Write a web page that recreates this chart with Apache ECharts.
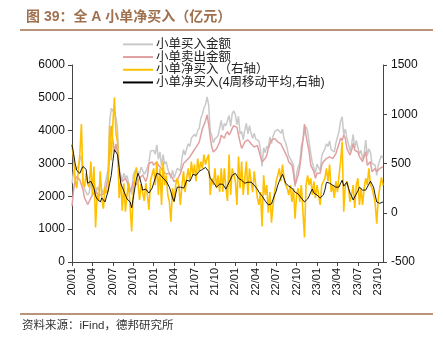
<!DOCTYPE html>
<html>
<head>
<meta charset="utf-8">
<script src="https://cdn.jsdelivr.net/npm/echarts@6/dist/echarts.min.js"></script>
<style>
  html, body { margin: 0; padding: 0; background: #fff; }
  #chart { width: 443px; height: 340px; }
</style>
</head>
<body>
<div id="chart"></div>
<script>
// Weekly small-order flows for the whole A-share market (亿元), Jan 2020 – Nov 2023
const tickLabels = ['20/01','20/04','20/07','20/10','21/01','21/04','21/07','21/10',
                    '22/01','22/04','22/07','22/10','23/01','23/04','23/07','23/10'];

// 小单买入金额 (left axis)
const buyAmount = [
  2390,2760,2830,2850,2910,3100,3250,2490,2210,2250,2040,2110,2470,2230,2570,2000,2280,2170,2420,2190,
  2090,2360,2350,2830,4280,4680,4600,4520,4400,4020,2850,2880,2470,2700,2560,2630,2600,2210,2060,2650,
  2780,2810,2750,2680,2890,2850,2670,2750,2780,3030,3380,3370,3400,3280,3570,3130,3350,2930,3270,2980,
  3060,2830,2810,2560,2800,2560,2700,2850,2880,2780,3130,3420,3260,3450,3600,3520,3770,3730,3890,3820,
  4000,4070,4370,4500,4690,4790,5030,4790,3980,3850,3630,3750,3700,3840,3860,4310,4010,4220,4150,4090,
  4460,4130,4520,4600,4490,4180,4440,3900,3980,3730,4010,4220,3900,4150,3920,3770,3920,3740,3700,3690,
  3420,2910,3480,3330,3530,3460,3810,3610,3830,3970,4020,4040,4070,3920,4050,3750,3640,3450,3230,3280,
  3060,2950,2290,2680,2900,3010,3530,3720,3950,4130,3980,3630,3300,3030,3070,2700,2980,2930,2780,3230,
  3350,3450,3600,3520,3690,3420,3430,3350,3620,3670,3980,4290,4420,3880,4050,3780,3600,3370,3580,3890,
  3460,3700,3700,3290,3400,3140,3300,3710,3230,3450,3340,3000,2980,2950,2640,2950,3110,3240,3180
];

// 小单卖出金额 (left axis)
const sellAmount = [
  1700,2200,2500,2600,2650,2500,2350,2200,1950,1850,1750,1850,1950,2050,2100,2150,2100,2050,2000,2050,
  2050,2100,2150,2600,3400,4150,3700,3350,3600,3300,2700,2550,2450,2400,2550,2450,2300,2150,2250,2450,
  2400,2350,2450,2550,2600,2650,2550,2450,2600,3000,3050,3050,2950,3000,3050,2950,2900,2850,2750,2700,
  2680,2650,2700,2650,2550,2450,2420,2500,2600,2700,2850,3000,3050,3100,3150,3200,3250,3350,3400,3500,
  3450,3650,3850,4050,4100,4300,4480,4200,3800,3500,3350,3300,3450,3460,3650,3860,3800,3770,3900,3970,
  3870,3950,4070,4150,4170,4100,3870,3650,3460,3550,3660,3700,3720,3700,3600,3560,3500,3460,3550,3610,
  3210,3050,3100,3150,3250,3460,3600,3710,3750,3760,3700,3660,3620,3600,3560,3400,3360,3200,3050,3000,
  2950,2700,2350,2500,2650,2900,3250,3700,4200,3850,3600,3350,2950,2850,2750,2550,2700,2750,2700,2950,
  3050,3100,3150,3200,3200,3210,3150,3200,3300,3460,3600,3770,3700,3870,3770,3460,3350,3260,3400,3610,
  3410,3420,3350,3210,3150,3060,3050,3360,2950,3000,3060,2750,2800,2850,2750,2800,2850,2880,2900
];

// 小单净买入 (right axis)
const netBuy = [
  690,560,330,250,260,600,900,290,260,400,290,260,520,180,470,-150,180,120,420,140,
  40,260,200,230,880,530,900,1170,800,720,150,330,20,300,10,180,300,60,-190,200,
  380,460,300,130,290,200,120,300,180,30,330,320,450,280,520,180,450,80,520,280,
  380,180,110,-90,250,110,280,350,280,80,280,420,210,350,450,320,520,380,490,320,
  550,420,520,450,590,490,550,590,180,350,280,450,250,380,210,450,210,450,250,120,
  590,180,450,450,320,80,570,250,520,180,350,520,180,450,320,210,420,280,150,80,
  210,-140,380,180,280,0,210,-100,80,210,320,380,450,320,490,350,280,250,180,280,
  110,250,-60,180,250,110,280,20,-250,280,380,280,350,180,320,150,280,180,80,280,
  300,350,450,320,490,210,280,150,320,210,380,520,720,10,280,320,250,110,180,280,
  50,280,350,80,250,80,250,350,280,450,280,250,180,100,-110,150,260,360,280
];

// 小单净买入 4周移动平均 (right axis)
const netBuyMA4 = [
  690,600,500,430,410,400,440,470,470,440,300,280,320,300,250,170,140,120,110,150,
  140,110,130,220,300,380,520,640,630,590,460,300,260,220,200,140,130,110,50,150,
  250,340,400,360,300,230,220,240,230,200,190,250,300,350,400,410,390,380,350,330,
  320,300,260,210,150,115,190,260,280,260,250,250,280,330,320,320,350,390,380,380,
  400,420,430,440,440,460,470,420,350,330,310,300,260,270,290,280,290,280,240,220,
  310,340,380,390,400,380,350,340,330,320,300,290,310,320,310,290,280,260,240,210,
  200,170,150,120,110,80,70,90,100,180,220,280,320,360,390,350,300,280,270,260,
  250,230,210,200,190,170,150,130,110,110,140,170,210,240,200,190,180,170,150,160,
  180,230,310,330,300,290,280,270,260,250,260,300,330,270,280,310,250,200,170,130,
  110,190,220,260,280,230,210,230,250,290,320,300,260,180,110,90,95,100,110
];

// weekly category axis, Fridays from 2020-01-03
const weeks = [];
{
  const start = Date.UTC(2020, 0, 3);
  for (let i = 0; i < netBuy.length; i++) {
    const d = new Date(start + i * 7 * 86400000);
    weeks.push(d.toISOString().slice(0, 10));
  }
}
const LABEL_STEP = 13;
const showTick = (idx) => idx % LABEL_STEP === 0;

const brown = '#a0714f';
const numFont = 'Liberation Sans, Arial, sans-serif';
const cjkFont = 'Liberation Sans, "Noto Sans CJK SC", sans-serif';
const plainNumber = (v) => String(v);

const chart = echarts.init(document.getElementById('chart'), null, { renderer: 'canvas' });
chart.setOption({
  animation: false,
  backgroundColor: '#fff',
  title: {
    text: '图 39：全 A 小单净买入（亿元）',
    left: 21, top: 5,
    textStyle: { color: brown, fontSize: 14, fontWeight: 'bold', fontFamily: 'Liberation Sans, "Noto Sans CJK SC", sans-serif' }
  },
  graphic: [
    { type: 'line', shape: { x1: 20, y1: 30, x2: 433, y2: 30 }, style: { stroke: brown, lineWidth: 1.5 } },
    { type: 'line', shape: { x1: 20, y1: 314, x2: 433, y2: 314 }, style: { stroke: brown, lineWidth: 1.5 } },
    { type: 'text', left: 22, top: 320,
      style: { text: '资料来源：iFind，德邦研究所', fill: '#333', font: '11.5px ' + cjkFont } }
  ],
  legend: {
    orient: 'vertical',
    left: 118, top: 33,
    itemWidth: 30, itemHeight: 2, itemGap: 0,
    icon: 'rect',
    textStyle: { fontSize: 12.5, lineHeight: 12.7, color: '#222', fontFamily: cjkFont, padding: [0, 0, 0, -2] },
    data: ['小单买入金额', '小单卖出金额', '小单净买入（右轴）', '小单净买入(4周移动平均,右轴)']
  },
  grid: { left: 72, right: 60, top: 65, bottom: 78 },
  xAxis: {
    type: 'category',
    data: weeks,
    boundaryGap: false,
    axisLine: { lineStyle: { color: '#444', width: 1 } },
    axisTick: { show: true, interval: (idx) => showTick(idx), length: 4, lineStyle: { color: '#444' } },
    axisLabel: {
      interval: (idx) => showTick(idx),
      rotate: 90,
      margin: 6,
      fontSize: 11,
      color: '#111',
      fontFamily: numFont,
      formatter: (val, idx) => tickLabels[Math.round(idx / LABEL_STEP)] || ''
    },
    splitLine: { show: false }
  },
  yAxis: [
    {
      type: 'value', min: 0, max: 6000, interval: 1000,
      axisLine: { show: true, lineStyle: { color: '#444' } },
      axisTick: { show: true, length: 4, lineStyle: { color: '#444' } },
      axisLabel: { fontSize: 12, color: '#111', fontFamily: numFont, margin: 7, formatter: plainNumber },
      splitLine: { show: false }
    },
    {
      type: 'value', min: -500, max: 1500, interval: 500, position: 'right',
      axisLine: { show: true, lineStyle: { color: '#444' } },
      axisTick: { show: true, length: 4, lineStyle: { color: '#444' } },
      axisLabel: { fontSize: 12, color: '#111', fontFamily: numFont, margin: 8, formatter: plainNumber },
      splitLine: { show: false }
    }
  ],
  series: [
    { name: '小单买入金额', type: 'line', yAxisIndex: 0, data: buyAmount, showSymbol: false,
      color: '#c9c9c9', lineStyle: { width: 1.5, color: '#c9c9c9' } },
    { name: '小单卖出金额', type: 'line', yAxisIndex: 0, data: sellAmount, showSymbol: false,
      color: '#e0a0a0', lineStyle: { width: 1.5, color: '#e0a0a0' } },
    { name: '小单净买入（右轴）', type: 'line', yAxisIndex: 1, data: netBuy, showSymbol: false,
      color: '#ffc000', lineStyle: { width: 1.6, color: '#ffc000' } },
    { name: '小单净买入(4周移动平均,右轴)', type: 'line', yAxisIndex: 1, data: netBuyMA4, showSymbol: false,
      color: '#000', lineStyle: { width: 0.9, color: '#000' } }
  ]
});
</script>
</body>
</html>
